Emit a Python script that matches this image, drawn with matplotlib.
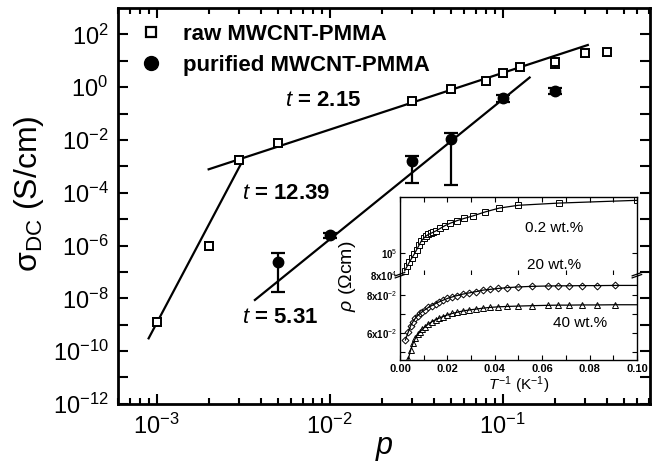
import numpy as np
import matplotlib
matplotlib.use("Agg")
from matplotlib import pyplot as plt
from matplotlib.lines import Line2D
from matplotlib.ticker import LogLocator, NullFormatter, FixedLocator, FixedFormatter, MultipleLocator

plt.rcParams['font.family'] = ['Liberation Sans', 'DejaVu Sans']
plt.rcParams['mathtext.fontset'] = 'custom'
plt.rcParams['mathtext.rm'] = 'Liberation Sans'
plt.rcParams['mathtext.it'] = 'Liberation Sans:italic'
plt.rcParams['mathtext.bf'] = 'Liberation Sans:bold'

# main panel: raw MWCNT-PMMA
raw_p = [0.001, 0.002, 0.003, 0.005, 0.03, 0.05, 0.08, 0.1, 0.125, 0.2, 0.3, 0.4]
raw_sigma = [1.3e-9, 1.0e-6, 1.8e-3, 7.7e-3, 0.30, 0.83, 1.7, 3.4, 5.7, 8.7, 19.0, 21.0]
raw_err_lo = [0.4e-9, 0.3e-6, 0.5e-3, 2.0e-3, 0.08, 0.22, 0.45, 0.9, 1.5, 3.5, 5.0, 5.5]
raw_err_hi = [0.5e-9, 0.4e-6, 0.6e-3, 2.6e-3, 0.10, 0.28, 0.55, 1.1, 1.9, 3.0, 6.0, 6.5]

# main panel: purified MWCNT-PMMA
pur_p = [0.005, 0.01, 0.03, 0.05, 0.1, 0.2]
pur_sigma = [2.3e-7, 2.4e-6, 1.6e-3, 1.1e-2, 0.38, 0.71]
pur_err_lo = [2.13e-7, 0.5e-6, 1.36e-3, 1.08e-2, 0.10, 0.18]
pur_err_hi = [2.7e-7, 0.6e-6, 0.9e-3, 0.7e-2, 0.13, 0.22]

# power-law fits: exponent t, log10 prefactor, p range
fit_t = [12.39, 2.15, 5.31]
fit_logA = [28.22, 2.69, 4.85]
fit_pmin = [9.0e-4, 2.0e-3, 3.7e-3]
fit_pmax = [3.14e-3, 0.31, 0.143]

# inset: resistivity vs 1/T
invT_02 = [0.002, 0.003, 0.004, 0.005, 0.006, 0.007, 0.008, 0.009, 0.010, 0.011, 0.012,
           0.013, 0.014, 0.015, 0.017, 0.019, 0.021, 0.024, 0.027, 0.031, 0.036, 0.042,
           0.050, 0.067, 0.100]
rho_02 = [84000, 88000, 92000, 95500, 99000, 103000, 107000, 111000, 113500, 115500, 117000,
          118000, 119000, 120000, 122500, 125000, 127000, 129500, 131500, 134000, 137500, 141000,
          143500, 145500, 148000]

invT_20 = [0.0023, 0.0035, 0.0045, 0.0055, 0.0065, 0.0075, 0.0085, 0.0095, 0.0105, 0.012,
           0.0135, 0.015, 0.0165, 0.018, 0.020, 0.022, 0.024, 0.0265, 0.029, 0.032, 0.035,
           0.038, 0.0415, 0.045, 0.050, 0.0556, 0.0625, 0.0667, 0.0714, 0.0769, 0.0833, 0.0909]
rho_20 = [0.0563, 0.0605, 0.0638, 0.0660, 0.0678, 0.0692, 0.0703, 0.0713, 0.0722, 0.0735,
          0.0745, 0.0755, 0.0764, 0.0772, 0.0782, 0.0790, 0.0797, 0.0805, 0.0811, 0.0818, 0.0826,
          0.0830, 0.0835, 0.0839, 0.0843, 0.0846, 0.0848, 0.0849, 0.0849, 0.0850, 0.0850, 0.0851]

invT_40 = [0.0035, 0.0045, 0.0055, 0.0065, 0.0075, 0.0085, 0.0095, 0.0105, 0.012, 0.0135,
           0.015, 0.0165, 0.018, 0.020, 0.022, 0.024, 0.0265, 0.029, 0.032, 0.035, 0.038,
           0.0415, 0.045, 0.050, 0.0556, 0.0625, 0.0667, 0.0714, 0.0769, 0.0833, 0.0909]
rho_40 = [0.0462, 0.0510, 0.0545, 0.0572, 0.0592, 0.0607, 0.0620, 0.0632, 0.0647, 0.0660,
          0.0670, 0.0678, 0.0686, 0.0695, 0.0703, 0.0709, 0.0716, 0.0721, 0.0726, 0.0731, 0.0735,
          0.0738, 0.0740, 0.0742, 0.0744, 0.0746, 0.0747, 0.0747, 0.0748, 0.0748, 0.0749]

fig = plt.figure(figsize=(6.6, 4.68), dpi=100)
ax = fig.add_axes([0.179, 0.137, 0.806, 0.846])

# fit lines
for t, logA, pmin, pmax in zip(fit_t, fit_logA, fit_pmin, fit_pmax):
    pp = np.array([pmin, pmax])
    ax.plot(pp, 10 ** (logA + t * np.log10(pp)), color="k", lw=1.6, zorder=2)

ax.errorbar(raw_p, raw_sigma, yerr=[raw_err_lo, raw_err_hi], fmt="s", color="k", mfc="white",
            ms=6, mew=1.4, elinewidth=1.4, capsize=3.5, capthick=1.4, zorder=3)
ax.errorbar(pur_p, pur_sigma, yerr=[pur_err_lo, pur_err_hi], fmt="o", color="k",
            ms=7.5, elinewidth=1.6, capsize=5, capthick=1.6, zorder=3)

ax.set_xscale("log")
ax.set_yscale("log")
ax.set_xlim(6e-4, 0.71)
ax.set_ylim(1e-12, 1e3)

ax.xaxis.set_major_locator(LogLocator(base=10, numticks=10))
ax.xaxis.set_minor_locator(LogLocator(base=10, subs=np.arange(2, 10), numticks=20))
ax.xaxis.set_minor_formatter(NullFormatter())
y_exps = [-12, -10, -8, -6, -4, -2, 0, 2]
ax.yaxis.set_major_locator(FixedLocator([10.0 ** e for e in y_exps]))
ax.yaxis.set_major_formatter(FixedFormatter([r"$10^{%d}$" % e for e in y_exps]))
ax.yaxis.set_minor_locator(FixedLocator([10.0 ** e for e in range(-11, 3, 2)]))
ax.yaxis.set_minor_formatter(NullFormatter())

ax.tick_params(which="both", direction="in", top=True, right=True, width=1.5)
ax.tick_params(which="major", length=7, labelsize=17, pad=7)
ax.tick_params(axis="y", which="minor", length=7)
ax.tick_params(axis="x", which="minor", length=4)
for s in ax.spines.values():
    s.set_linewidth(2)

ax.set_xlabel(r"$p$", fontsize=22, labelpad=-4)
ax.set_ylabel(r"$\mathrm{\sigma_{DC}}$ (S/cm)", fontsize=23)
ax.yaxis.set_label_coords(-0.135, 0.53)

handles = [Line2D([], [], ls="none", marker="s", color="k", mfc="white", ms=7, mew=1.6),
           Line2D([], [], ls="none", marker="o", color="k", ms=10)]
ax.legend(handles, ["raw MWCNT-PMMA", "purified MWCNT-PMMA"], loc="upper left", frameon=False,
          prop={"weight": "bold", "size": 16}, handletextpad=0.6, labelspacing=0.45,
          borderaxespad=0.3, handlelength=1.6, bbox_to_anchor=(0.0, 1.0))

ax.text(0.0055, 0.3, r"$t$ = 2.15", fontsize=16, fontweight="bold", ha="left", va="center")
ax.text(0.0031, 9e-5, r"$t$ = 12.39", fontsize=16, fontweight="bold", ha="left", va="center")
ax.text(0.0031, 1.9e-9, r"$t$ = 5.31", fontsize=16, fontweight="bold", ha="left", va="center")

# inset, broken y axis
ax_up = fig.add_axes([0.606, 0.412, 0.359, 0.167])
ax_lo = fig.add_axes([0.606, 0.231, 0.359, 0.181])

mk = dict(color="k", mfc="white", ms=4, mew=0.7, lw=0)
ax_up.plot(invT_02, rho_02, marker="s", **mk)
ax_up.plot(invT_02 + [0.1], rho_02 + [rho_02[-1]], color="k", lw=0.9)
ax_lo.plot(invT_20, rho_20, marker="D", **dict(mk, ms=3.5))
ax_lo.plot(invT_20 + [0.1], rho_20 + [rho_20[-1]], color="k", lw=0.9)
ax_lo.plot(invT_40, rho_40, marker="^", **mk)
ax_lo.plot(invT_40 + [0.1], rho_40 + [rho_40[-1]], color="k", lw=0.9)

for a in (ax_up, ax_lo):
    a.set_xlim(0.0, 0.10)
    a.xaxis.set_major_locator(MultipleLocator(0.02))
    a.xaxis.set_minor_locator(MultipleLocator(0.01))
    a.tick_params(which="both", direction="in", top=True, right=True, width=0.8, labelsize=8)
    a.tick_params(which="major", length=3.5)
    a.tick_params(which="minor", length=3.5)
    for s in a.spines.values():
        s.set_linewidth(1.0)

ax_up.set_ylim(8e4, 1.51e5)
ax_up.yaxis.set_major_locator(FixedLocator([8e4, 1e5]))
ax_up.yaxis.set_major_formatter(FixedFormatter([r"8x10$^4$", r"10$^5$"]))
ax_up.spines["bottom"].set_visible(False)
ax_up.tick_params(bottom=False, labelbottom=False)

ax_lo.set_ylim(0.0458, 0.0905)
ax_lo.yaxis.set_major_locator(FixedLocator([0.06, 0.08]))
ax_lo.yaxis.set_minor_locator(FixedLocator([0.05, 0.07]))
ax_lo.yaxis.set_major_formatter(FixedFormatter([r"6x10$^{-2}$", r"8x10$^{-2}$"]))
ax_lo.spines["top"].set_visible(False)
ax_lo.tick_params(top=False, which="both")
ax_lo.xaxis.set_major_formatter(matplotlib.ticker.FormatStrFormatter("%.2f"))
for lab in ax_lo.get_xticklabels() + ax_lo.get_yticklabels() + ax_up.get_yticklabels():
    lab.set_fontweight("bold")
ax_lo.tick_params(axis="y", labelsize=7, pad=2)
ax_up.tick_params(axis="y", labelsize=7, pad=2)
ax_lo.tick_params(axis="x", pad=3)
ax_lo.set_xlabel(r"$T^{-1}$ (K$^{-1}$)", fontsize=11, labelpad=0)
fig.text(0.526, 0.41, r"$\rho$ ($\Omega$cm)", fontsize=14, rotation=90, ha="center", va="center")

# break marks on both sides
for xb in (0.0, 1.0):
    for dy in (-0.012, 0.012):
        ax_lo.plot([xb - 0.02, xb + 0.02], [1.0 + dy - 0.02, 1.0 + dy + 0.02],
                   transform=ax_lo.transAxes, color="k", lw=0.9, clip_on=False)

ax_up.text(0.65, 0.6, "0.2 wt.%", transform=ax_up.transAxes, fontsize=11, ha="center", va="center")
ax_up.text(0.65, 0.13, "20 wt.%", transform=ax_up.transAxes, fontsize=11, ha="center", va="center")
ax_lo.text(0.76, 0.435, "40 wt.%", transform=ax_lo.transAxes, fontsize=11, ha="center", va="center")

plt.savefig("out.png", dpi=100)
print("Saved out.png")
